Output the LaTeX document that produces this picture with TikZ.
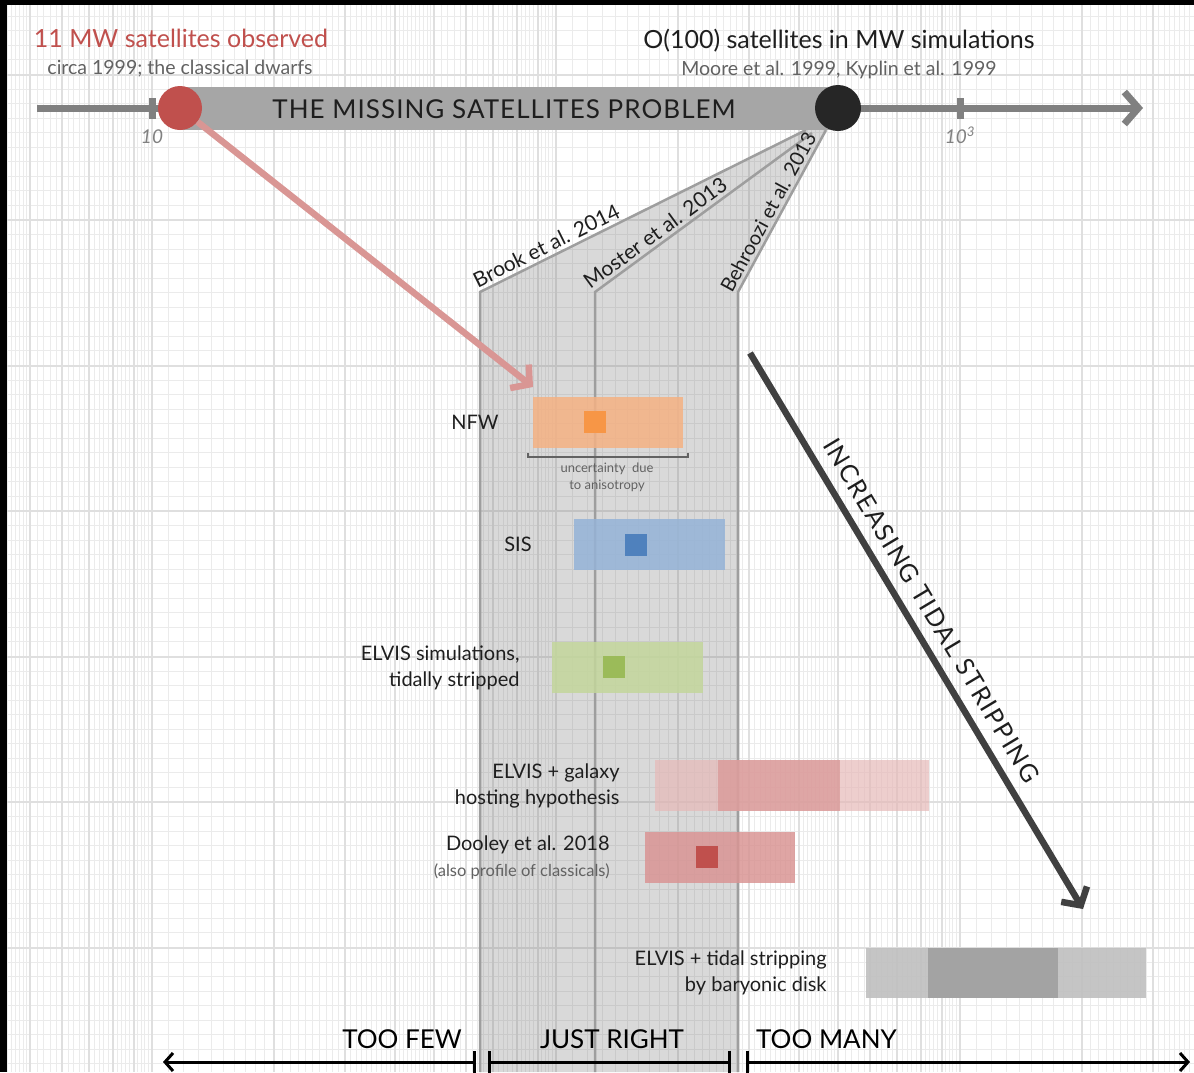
\documentclass[tikz,border=0pt]{standalone}
\usepackage{fontspec}
\setmainfont{Lato}
\usetikzlibrary{arrows.meta,positioning}

\definecolor{gridmin}{HTML}{EBEBEB}
\definecolor{gridmaj}{HTML}{DFDFDF}
\definecolor{axisgray}{HTML}{808080}
\definecolor{bandgray}{HTML}{A6A6A6}
\definecolor{obsred}{HTML}{C0504D}
\definecolor{simblack}{HTML}{262626}
\definecolor{pinkarrow}{HTML}{D99694}
\definecolor{labelblack}{HTML}{1E1E1E}
\definecolor{subgray}{HTML}{626262}
\definecolor{nfwlight}{HTML}{F4B183}
\definecolor{nfwdark}{HTML}{F79646}
\definecolor{sislight}{HTML}{95B3D7}
\definecolor{sisdark}{HTML}{4F81BD}
\definecolor{elvislight}{HTML}{C3D69B}
\definecolor{elvisdark}{HTML}{9BBB59}
\definecolor{hostlight}{HTML}{E6B9B8}
\definecolor{hostmid}{HTML}{D99594}
\definecolor{tidlight}{HTML}{BFBFBF}
\definecolor{tidmid}{HTML}{A0A0A0}
\definecolor{strippinggray}{HTML}{404040}

\newcommand\fsz[2]{\fontsize{#1}{#2}\selectfont}

\tikzset{
  gridminor/.style={draw=gridmin, line width=1pt},
  gridmajor/.style={draw=gridmaj, line width=2pt},
  axisline/.style={draw=axisgray, line width=7pt, -{Straight Barb[length=14pt,width=32pt]}},
  tickmark/.style={fill=axisgray, minimum width=7pt, minimum height=21pt},
  ticklabel/.style={text=axisgray, font=\fsz{19}{23}\itshape},
  dot/.style={circle, minimum size=44pt},
  headline/.style={font=\fsz{25}{30}},
  subline/.style={text=subgray, font=\fsz{19.5}{23}},
  wedgefill/.style={fill=black!50, fill opacity=0.3},
  wedgeline/.style={draw=black!38, line width=2.5pt},
  reflabel/.style={font=\fsz{21}{25}, text=labelblack, sloped, above=3pt},
  obsarrow/.style={draw=pinkarrow, line width=6.5pt, -{Straight Barb[length=13pt,width=30pt]}},
  rangebox/.style={minimum height=51pt, fill opacity=0.85},
  peakbox/.style={minimum size=22pt},
  rowlabel/.style={font=\fsz{20}{26}, align=right, text=labelblack},
  bracketline/.style={draw=subgray, line width=1.5pt},
  notelabel/.style={font=\fsz{13}{17}, align=center, text=subgray},
  tidalarrow/.style={draw=strippinggray, line width=6.5pt, -{Straight Barb[length=13pt,width=30pt]}},
  tidallabel/.style={font=\fsz{25}{30}\addfontfeature{LetterSpace=7}, text=labelblack, sloped, above=11pt},
  zonelabel/.style={font=\fsz{26}{32}, text=black},
  zonearrow/.style={draw=black, line width=3pt}
}

\begin{document}
\begin{tikzpicture}[x=1pt,y=-1pt,every node/.style={inner sep=0pt}]
\useasboundingbox (0,0) rectangle (1194,1072);
%%
% Background: log graph paper
\begin{scope}
  \clip (7,5) rectangle (1194,1072);
  \foreach \k in {0,...,80} {
    \pgfmathsetmacro\yy{-71+14.55*\k}
    \draw[gridminor] (0,\yy) -- (1194,\yy);
  }
  \foreach \d in {-252,152,556,960} {
    \foreach \m in {1.1,1.2,...,4.95,5.2,5.4,...,9.9} {
      \pgfmathsetmacro\xx{\d+404*log10(\m)}
      \draw[gridminor] (\xx,0) -- (\xx,1072);
    }
  }
  \foreach \k in {0,...,8} {
    \pgfmathsetmacro\yy{-71+145.5*\k}
    \draw[gridmajor] (0,\yy) -- (1194,\yy);
  }
  \foreach \d in {-252,152,556,960} {
    \foreach \m in {1,...,9} {
      \pgfmathsetmacro\xx{\d+404*log10(\m)}
      \draw[gridmajor] (\xx,0) -- (\xx,1072);
    }
  }
\end{scope}
\fill[black] (0,0) rectangle (7,1072);
\fill[black] (0,0) rectangle (1194,5);
%
% Wedge: Brook, Moster, Behroozi
\coordinate (brookB) at (480,292);
\coordinate (mosterB) at (595,292);
\coordinate (behrB) at (738,292);
\coordinate (brookT) at (806,130);
\coordinate (mosterT) at (812,133);
\coordinate (behrT) at (826,130);
\coordinate (brookE) at (480,1072);
\coordinate (mosterE) at (595,1072);
\coordinate (behrE) at (738,1072);
\fill[wedgefill] (brookT) -- (brookB) -- (brookE) -- (behrE) -- (behrB) -- (behrT) -- cycle;
\draw[wedgeline] (brookE) -- (brookB) -- node[reflabel, pos=0.22] (brookL) {Brook et al. 2014} (brookT);
\draw[wedgeline] (mosterE) -- (mosterB) -- node[reflabel, pos=0.31] (mosterL) {Moster et al. 2013} (mosterT);
\draw[wedgeline] (behrE) -- (behrB) -- node[reflabel, font=\fsz{20}{24}, pos=0.46] (behrL) {Behroozi et al. 2013} (behrT);
%
% Top axis
\coordinate (axL) at (37,108);
\coordinate (axR) at (1143,108);
\draw[axisline] (axL) -- (axR);
\node[tickmark] (tk1) at (152,108) {};
\node[tickmark] (tk3) at (960,108) {};
\node[ticklabel, anchor=base] (tl1) at (152,143) {10};
\node[ticklabel, anchor=base] (tl3) at (960,143) {10\textsuperscript{3}};
%
% Node: observed and simulated counts
\coordinate (obsc) at (180,108);
\coordinate (simc) at (838,108);
\fill[bandgray] ([yshift=21.5pt]obsc) rectangle ([yshift=-21.5pt]simc);
\node[dot, fill=obsred] (obsdot) at (obsc) {};
\node[dot, fill=simblack, minimum size=46pt] (simdot) at (simc) {};
\node[font=\fsz{26}{30}\addfontfeature{LetterSpace=4}, text=labelblack, anchor=base] (mspT) at (504,118) {THE MISSING SATELLITES PROBLEM};
\node[headline, text=obsred, anchor=base] (obsT) at (181,47) {11 MW satellites observed};
\node[subline, anchor=base] (obsS) at (180,74) {circa 1999; the classical dwarfs};
\node[headline, text=labelblack, anchor=base] (simT) at (839,48) {O(100) satellites in MW simulations};
\node[subline, anchor=base] (simS) at (839,75) {Moore et al. 1999, Kyplin et al. 1999};
%
% Node: NFW
\node[rangebox, fill=nfwlight, minimum width=150pt] (nfw) at (608,422.5) {};
\node[peakbox, fill=nfwdark] (nfwpk) at (595,422) {};
\node[rowlabel, left=34pt of nfw] (nfwL) {NFW};
\draw[bracketline] (528,453) -- (528,457) -- (688,457) -- (688,453);
\node[notelabel, anchor=north] (nfwN) at (607,463) {uncertainty\ \ due\\to anisotropy};
%
% Node: SIS
\node[rangebox, fill=sislight, minimum width=151pt] (sis) at (649.5,544.5) {};
\node[peakbox, fill=sisdark] (sispk) at (636,544.5) {};
\node[rowlabel, left=42pt of sis] (sisL) {SIS};
%
% Node: ELVIS tidally stripped
\node[rangebox, fill=elvislight, minimum width=151pt] (elvis) at (627.5,667.5) {};
\node[peakbox, fill=elvisdark] (elvispk) at (614,667) {};
\node[rowlabel, left=32pt of elvis] (elvisL) {ELVIS simulations,\\tidally stripped};
%
% Node: ELVIS + galaxy hosting
\node[rangebox, fill=hostlight, fill opacity=0.7, minimum width=274pt] (host) at (792,785.5) {};
\node[rangebox, fill=hostmid, fill opacity=0.7, minimum width=122pt] (hostmid) at (779,785.5) {};
\node[rowlabel, left=35pt of host] (hostL) {ELVIS + galaxy\\hosting hypothesis};
%
% Node: Dooley et al. 2018
\node[rangebox, fill=hostmid, minimum width=150pt] (dooley) at (720,857.5) {};
\node[peakbox, fill=obsred] (dooleypk) at (707,857) {};
\node[rowlabel, left=35pt of dooley] (dooleyL) {Dooley et al. 2018\\{\fsz{16.5}{21}\color{subgray}(also profile of classicals)}};
%
% Node: ELVIS + tidal stripping
\node[rangebox, fill=tidlight, fill opacity=0.9, minimum width=280pt, minimum height=50pt] (tid) at (1006,972.5) {};
\node[rangebox, fill=tidmid, fill opacity=0.9, minimum width=130pt, minimum height=50pt] (tidmid) at (993,972.5) {};
\node[rowlabel, left=39pt of tid] (tidL) {ELVIS + tidal stripping\\by baryonic disk};
%
% Edge: observed -> NFW
\coordinate (nfwtip) at (533,387);
\draw[obsarrow] (obsdot) -- (nfwtip);
%
% Edge: increasing tidal stripping
\coordinate (tidS) at (750,353);
\coordinate (tidE) at (1083,909);
\draw[tidalarrow] (tidS) -- node[tidallabel, pos=0.485] (tidArr) {INCREASING TIDAL STRIPPING} (tidE);
%
% Bottom zones
\node[zonelabel, anchor=base east] (fewL) at (462,1048) {TOO FEW};
\node[zonelabel, anchor=base] (okL) at (612,1048) {JUST RIGHT};
\node[zonelabel, anchor=base west] (manyL) at (756,1048) {TOO MANY};
\coordinate (fewA) at (476,1062);
\coordinate (fewB) at (163,1062);
\coordinate (okA) at (488,1062);
\coordinate (okB) at (731,1062);
\coordinate (manyA) at (746,1062);
\coordinate (manyB) at (1190,1062);
\draw[zonearrow, {Bar[width=22pt]}-{Straight Barb[length=8pt,width=18pt]}] (fewA) -- (fewB);
\draw[zonearrow, {Bar[width=22pt]}-{Bar[width=22pt]}] (okA) -- (okB);
\draw[zonearrow, {Bar[width=22pt]}-{Straight Barb[length=8pt,width=18pt]}] (manyA) -- (manyB);
%
\end{tikzpicture}
\end{document}
